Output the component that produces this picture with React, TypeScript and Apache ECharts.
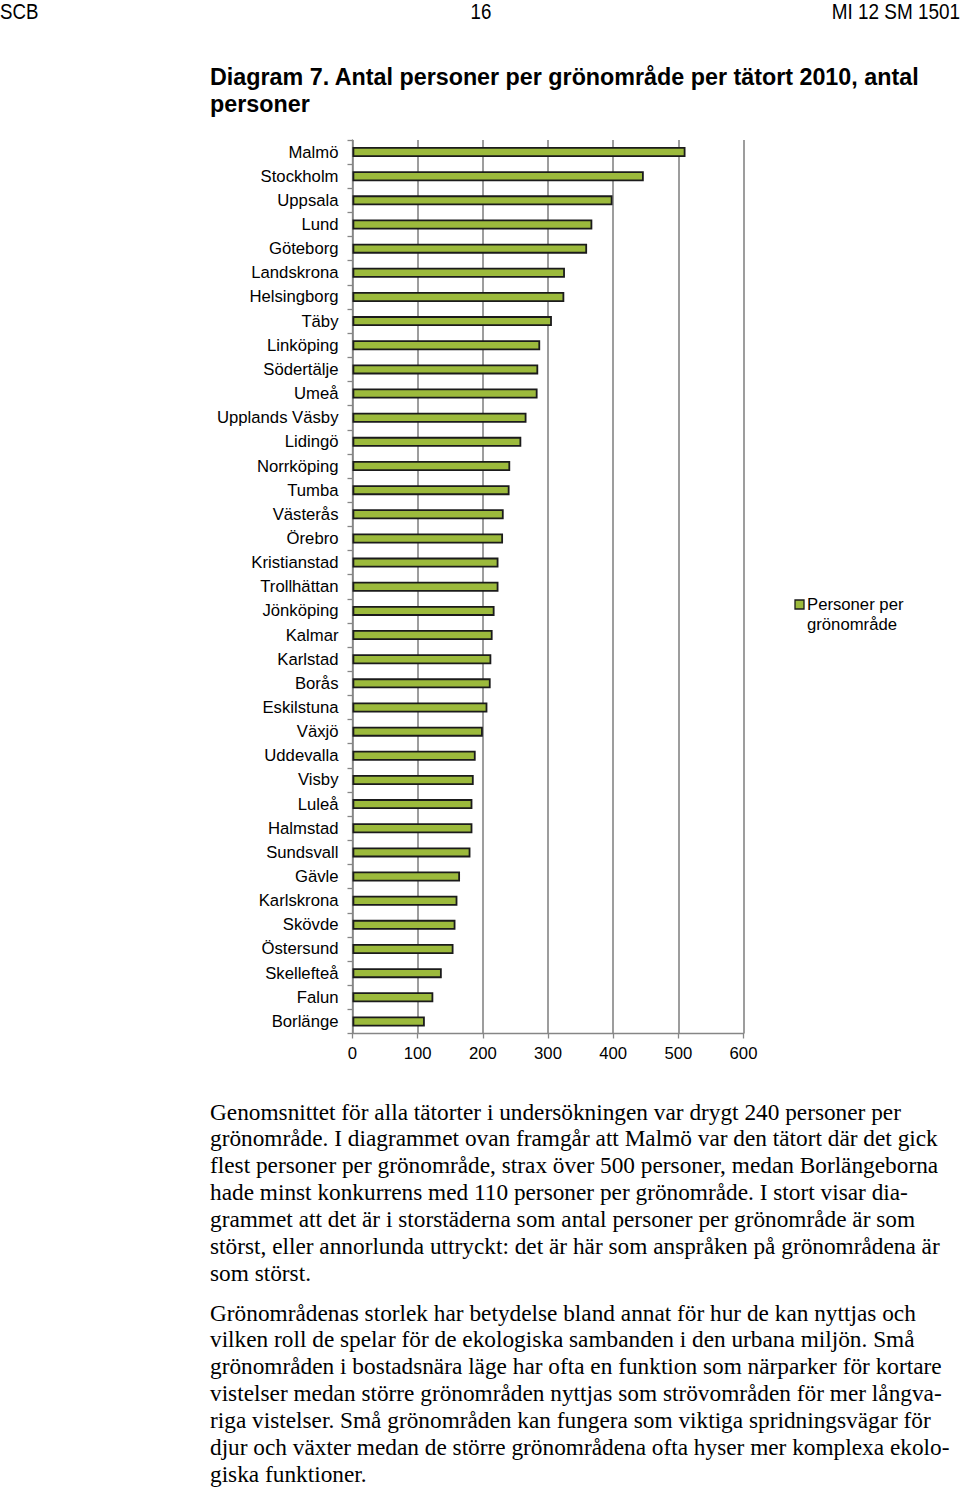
import React, { useEffect, useRef } from "react";
import * as echarts from "echarts";

const categories = [
  "Malmö", "Stockholm", "Uppsala", "Lund", "Göteborg", "Landskrona", "Helsingborg", "Täby",
  "Linköping", "Södertälje", "Umeå", "Upplands Väsby", "Lidingö", "Norrköping", "Tumba",
  "Västerås", "Örebro", "Kristianstad", "Trollhättan", "Jönköping", "Kalmar", "Karlstad",
  "Borås", "Eskilstuna", "Växjö", "Uddevalla", "Visby", "Luleå", "Halmstad", "Sundsvall",
  "Gävle", "Karlskrona", "Skövde", "Östersund", "Skellefteå", "Falun", "Borlänge",
];
const values = [
  511, 447, 399, 368, 360, 326, 325, 306, 288, 285, 284, 267, 259, 242, 241, 232, 231, 224,
  224, 218, 215, 213, 212, 207, 200, 189, 186, 184, 184, 181, 165, 161, 158, 155, 137, 124, 111,
];
const seriesName = "Personer per\ngrönområde";
const xTicks = [0, 100, 200, 300, 400, 500, 600];

const headerLeft = "SCB";
const headerCenter = "16";
const headerRight = "MI 12 SM 1501";
const titleLines = ["Diagram 7. Antal personer per grönområde per tätort 2010, antal", "personer"];
const para1 = [
  "Genomsnittet för alla tätorter i undersökningen var drygt 240 personer per",
  "grönområde. I diagrammet ovan framgår att Malmö var den tätort där det gick",
  "flest personer per grönområde, strax över 500 personer, medan Borlängeborna",
  "hade minst konkurrens med 110 personer per grönområde. I stort visar dia-",
  "grammet att det är i storstäderna som antal personer per grönområde är som",
  "störst, eller annorlunda uttryckt: det är här som anspråken på grönområdena är",
  "som störst.",
];
const para2 = [
  "Grönområdenas storlek har betydelse bland annat för hur de kan nyttjas och",
  "vilken roll de spelar för de ekologiska sambanden i den urbana miljön. Små",
  "grönområden i bostadsnära läge har ofta en funktion som närparker för kortare",
  "vistelser medan större grönområden nyttjas som strövområden för mer långva-",
  "riga vistelser. Små grönområden kan fungera som viktiga spridningsvägar för",
  "djur och växter medan de större grönområdena ofta hyser mer komplexa ekolo-",
  "giska funktioner.",
];

const SANS = "'Liberation Sans', Arial, Helvetica, sans-serif";
const SERIF = "'Liberation Serif', 'Times New Roman', serif";
const BAR_COLOR = "#9cba3c";
const BAR_BORDER = "#1b1b1b";

function Chart() {
  const ref = useRef<HTMLDivElement>(null);
  useEffect(() => {
    if (!ref.current) return;
    const chart = echarts.init(ref.current, undefined, { renderer: "svg" });
    chart.setOption({
      animation: false,
      grid: { left: 352.5, top: 140, width: 391, height: 893.5, containLabel: false },
      graphic: [
        {
          type: "rect",
          shape: { x: 795, y: 600, width: 9, height: 9 },
          style: { fill: BAR_COLOR, stroke: BAR_BORDER, lineWidth: 1.3 },
        },
        {
          type: "text",
          x: 807,
          y: 594,
          style: {
            text: seriesName,
            fontFamily: SANS,
            fontSize: 16.7,
            lineHeight: 20,
            fill: "#000",
            verticalAlign: "top",
          },
        },
      ],
      xAxis: {
        type: "value",
        min: xTicks[0],
        max: xTicks[xTicks.length - 1],
        interval: 100,
        axisLine: { show: true, lineStyle: { color: "#868686", width: 1.3 } },
        axisTick: { show: true, length: 5, lineStyle: { color: "#868686", width: 1.3 } },
        axisLabel: { fontFamily: SANS, fontSize: 16.7, color: "#000", margin: 11 },
        splitLine: { show: true, lineStyle: { color: "#858585", width: 1.6 } },
      },
      yAxis: {
        type: "category",
        inverse: true,
        data: categories,
        axisLine: { show: true, lineStyle: { color: "#868686", width: 1.3 } },
        axisTick: { show: true, length: 5, lineStyle: { color: "#868686", width: 1.3 } },
        axisLabel: { fontFamily: SANS, fontSize: 16.7, color: "#000", margin: 14 },
      },
      series: [
        {
          name: seriesName,
          type: "bar",
          data: values,
          barWidth: 10,
          itemStyle: { color: BAR_COLOR, borderColor: BAR_BORDER, borderWidth: 1.8 },
        },
      ],
    });
    return () => chart.dispose();
  }, []);
  return (
    <div
      ref={ref}
      style={{ position: "absolute", left: 0, top: 0, width: 960, height: 1489 }}
    />
  );
}

const lineStyle = (top: number, left: number, font: string, size: number, extra: any = {}) => ({
  position: "absolute" as const,
  top,
  left,
  fontFamily: font,
  fontSize: size,
  lineHeight: "27px",
  whiteSpace: "nowrap" as const,
  color: "#000",
  ...extra,
});

export default function App() {
  const p1Top = 1112 - 13.5;
  const p2Top = 1313 - 13.5;
  const step = 26.85;
  return (
    <div style={{ position: "absolute", left: 0, top: 0, width: 960, height: 1489, background: "#fff", overflow: "hidden" }}>
      <Chart />
      <div style={lineStyle(-2, 0, SANS, 22, { transform: "scaleX(0.85)", transformOrigin: "left center" })}>{headerLeft}</div>
      <div style={lineStyle(-2, 0, SANS, 22, { width: 962, textAlign: "center", transform: "scaleX(0.85)", transformOrigin: "481px center" })}>{headerCenter}</div>
      <div style={lineStyle(-2, 0, SANS, 22, { width: 960, textAlign: "right", transform: "scaleX(0.86)", transformOrigin: "right center" })}>{headerRight}</div>
      {titleLines.map((t, i) => (
        <div key={"t" + i} style={lineStyle(63.5 + i * 27, 210, SANS, 23.3, { fontWeight: "bold" })}>{t}</div>
      ))}
      {para1.map((t, i) => (
        <div key={"a" + i} style={lineStyle(p1Top + i * step, 210, SERIF, 23.3)}>{t}</div>
      ))}
      {para2.map((t, i) => (
        <div key={"b" + i} style={lineStyle(p2Top + i * step, 210, SERIF, 23.3)}>{t}</div>
      ))}
    </div>
  );
}
